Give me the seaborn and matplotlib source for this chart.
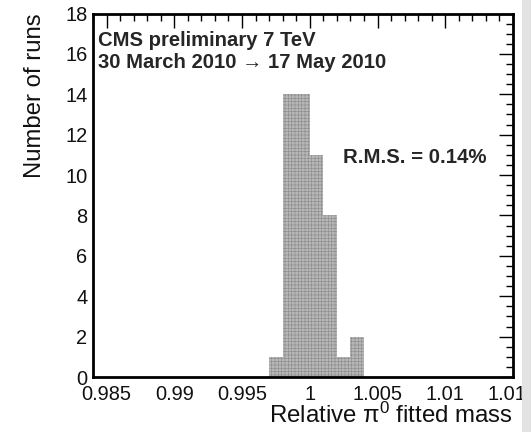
import matplotlib
matplotlib.use("Agg")
import matplotlib.pyplot as plt
import matplotlib.ticker as mticker
from matplotlib.patches import Rectangle
import pandas as pd
import seaborn as sns

# Histogram of the relative pi0 fitted mass per run
bin_edges = [0.997, 0.998, 0.999, 1.000, 1.001, 1.002, 1.003, 1.004]
run_counts = [1, 14, 14, 11, 8, 1, 2]
x_ticks = [0.985, 0.99, 0.995, 1.0, 1.005, 1.01, 1.015]
y_ticks = [0, 2, 4, 6, 8, 10, 12, 14, 16, 18]

sns.set_theme(style="white")
plt.rcParams["font.family"] = ["Liberation Sans", "DejaVu Sans"]
plt.rcParams["mathtext.default"] = "regular"
plt.rcParams["hatch.linewidth"] = 0.5
plt.rcParams["hatch.color"] = "#8c8c8c"

centers = [(a + b) / 2 for a, b in zip(bin_edges[:-1], bin_edges[1:])]
df = pd.DataFrame({"mass": centers, "runs": run_counts})

fig = plt.figure(figsize=(5.31, 4.32), dpi=100)
ax = fig.add_axes([0.1751, 0.1273, 0.791, 0.8414])

sns.histplot(data=df, x="mass", weights="runs", bins=bin_edges,
             element="step", fill=True, color="#555555", ax=ax)
for coll in ax.collections:
    coll.set_facecolor("#b8b8b8")
    coll.set_hatch("+++++")
    coll.set_edgecolor("#909090")
    coll.set_alpha(1)
    coll.set_linewidth(0)
for ln in ax.lines:
    ln.set_color("#333333")
    ln.set_linewidth(1.3)

ax.set_xlim(0.984, 1.015)
ax.set_ylim(0, 18)
ax.set_xticks(x_ticks)
ax.set_yticks(y_ticks)
ax.xaxis.set_minor_locator(mticker.MultipleLocator(0.001))
ax.yaxis.set_minor_locator(mticker.MultipleLocator(0.5))
ax.xaxis.set_major_formatter(mticker.FuncFormatter(lambda v, p: f"{v:g}"))
ax.yaxis.set_major_formatter(mticker.FuncFormatter(lambda v, p: f"{v:g}"))

ax.tick_params(which="both", direction="in", top=True, right=True,
               color="black", width=1.0, labelsize=14.4, labelcolor="#111111")
ax.tick_params(which="major", length=10)
ax.tick_params(which="minor", length=5)
ax.tick_params(axis="x", which="major", pad=6)
ax.tick_params(axis="y", which="major", pad=4)
ax.set_axisbelow(False)
for sp in ax.spines.values():
    sp.set_visible(True)
    sp.set_color("black")
    sp.set_linewidth(2)
    sp.set_zorder(5)

ax.set_xlabel(r"Relative π$^{0}$ fitted mass", loc="right", fontsize=17.3,
              color="#111111")
ax.xaxis.label.set_va("baseline")
ax.xaxis.set_label_coords(1.0, -0.1265)
ax.set_ylabel("Number of runs", loc="top", fontsize=17.2, labelpad=14,
              color="#111111")

ax.text(0.012, 0.9106, "CMS preliminary 7 TeV", transform=ax.transAxes,
        fontsize=14.6, fontweight="bold", ha="left", va="baseline")
ax.text(0.012, 0.850, "30 March 2010 → 17 May 2010", transform=ax.transAxes,
        fontsize=14.6, fontweight="bold", ha="left", va="baseline")
ax.text(0.938, 0.5878, "R.M.S. = 0.14%", transform=ax.transAxes,
        fontsize=14.7, fontweight="bold", ha="right", va="baseline")

# light page margin at the right edge
fig.patches.append(Rectangle((522 / 531, 0), 1, 1, transform=fig.transFigure,
                             facecolor="#e3e3e3", edgecolor="none", zorder=10))

fig.savefig("out.png", dpi=100)
